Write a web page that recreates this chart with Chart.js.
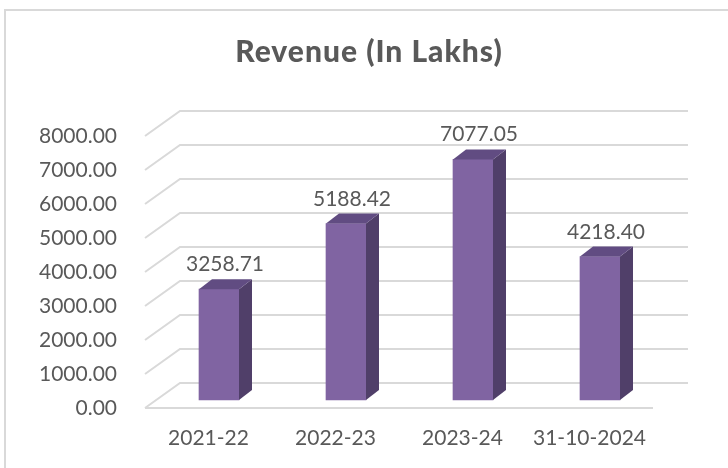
<!DOCTYPE html>
<html>
<head>
<meta charset="utf-8">
<title>Revenue (In Lakhs)</title>
<script src="https://cdn.jsdelivr.net/npm/chart.js@4.4.1/dist/chart.umd.min.js"></script>
<style>
  html, body { margin: 0; padding: 0; background: #fff; }
  #wrap { width: 728px; height: 468px; }
</style>
</head>
<body>
<div id="wrap"><canvas id="revenueChart" width="728" height="468"></canvas></div>
<script>
// data
const categories = ['2021-22', '2022-23', '2023-24', '31-10-2024'];
const revenue = [3258.71, 5188.42, 7077.05, 4218.40];
const yMin = 0;
const yMax = 8000;
const yStep = 1000;
const chartTitle = 'Revenue (In Lakhs)';

const TEXT = '#595959';
const GRID = '#d9d9d9';
const FRONT = '#8064a2';
const SIDE = '#503f69';
const TOP = '#614c82';

// fake 3d: wall depth, where the bars stand, and bar depth
const WALL_X = 35, WALL_Y = 25;
const BAR_X = 10.5, BAR_Y = 8;
const BOX_X = 13, BOX_Y = 10;

const excel3d = {
    id: 'excel3d',
    beforeDraw(chart) {
        const ctx = chart.ctx;
        ctx.save();
        // chart frame (only top and left show in the crop)
        ctx.strokeStyle = GRID;
        ctx.lineWidth = 2;
        ctx.beginPath();
        ctx.moveTo(5, chart.height);
        ctx.lineTo(5, 10);
        ctx.lineTo(chart.width, 10);
        ctx.stroke();
        // title, centred like the excel one
        ctx.fillStyle = TEXT;
        ctx.font = '900 30px Lato';
        ctx.letterSpacing = '1px';
        ctx.textAlign = 'center';
        ctx.textBaseline = 'alphabetic';
        ctx.fillText(chartTitle, 369, 62);
        ctx.restore();
    },
    beforeDatasetsDraw(chart) {
        const { ctx, chartArea: a, scales: { y } } = chart;
        ctx.save();
        ctx.strokeStyle = GRID;
        ctx.lineWidth = 2;
        y.ticks.forEach(t => {
            const py = y.getPixelForValue(t.value);
            ctx.beginPath();
            ctx.moveTo(a.left, py);
            ctx.lineTo(a.left + WALL_X, py - WALL_Y);
            ctx.lineTo(a.right + WALL_X, py - WALL_Y);
            ctx.stroke();
        });
        // front edge of the floor
        ctx.beginPath();
        ctx.moveTo(a.left, a.bottom);
        ctx.lineTo(a.right, a.bottom);
        ctx.stroke();
        ctx.restore();

        // bars stand a bit behind the front plane
        ctx.save();
        ctx.translate(BAR_X, -BAR_Y);
    },
    afterDatasetsDraw(chart) {
        const ctx = chart.ctx;
        const meta = chart.getDatasetMeta(0);
        meta.data.forEach(bar => {
            const { x, y, width, base } = bar.getProps(['x', 'y', 'width', 'base'], true);
            const l = x - width / 2, r = x + width / 2;
            ctx.fillStyle = SIDE;
            ctx.beginPath();
            ctx.moveTo(r, y);
            ctx.lineTo(r + BOX_X, y - BOX_Y);
            ctx.lineTo(r + BOX_X, base - BOX_Y);
            ctx.lineTo(r, base);
            ctx.closePath();
            ctx.fill();
            ctx.fillStyle = TOP;
            ctx.beginPath();
            ctx.moveTo(l, y);
            ctx.lineTo(l + BOX_X, y - BOX_Y);
            ctx.lineTo(r + BOX_X, y - BOX_Y);
            ctx.lineTo(r, y);
            ctx.closePath();
            ctx.fill();
        });
        ctx.restore();

        // value labels
        ctx.save();
        ctx.fillStyle = TEXT;
        ctx.font = '21px Lato';
        ctx.textAlign = 'center';
        ctx.textBaseline = 'alphabetic';
        meta.data.forEach((bar, i) => {
            ctx.fillText(revenue[i].toFixed(2), bar.x + BAR_X + 6, bar.y - BAR_Y - 18);
        });
        ctx.restore();
    }
};

function drawChart() {
    const ctx = document.getElementById('revenueChart').getContext('2d');
    new Chart(ctx, {
        type: 'bar',
        data: {
            labels: categories,
            datasets: [{
                label: 'Revenue',
                data: revenue,
                backgroundColor: FRONT,
                borderWidth: 0,
                barThickness: 40,
                clip: false
            }]
        },
        options: {
            responsive: false,
            animation: false,
            layout: { padding: { left: 35, right: 75, top: 136, bottom: 0 } },
            plugins: {
                legend: { display: false },
                tooltip: { enabled: false },
                title: { display: false }
            },
            scales: {
                x: {
                    grid: { display: false },
                    border: { display: false },
                    ticks: { color: TEXT, font: { family: 'Lato', size: 21 }, padding: 10, maxRotation: 0 },
                    afterFit(s) { s.height = 60; }
                },
                y: {
                    min: yMin,
                    max: yMax,
                    grid: { display: false, drawTicks: false },
                    border: { display: false },
                    ticks: {
                        stepSize: yStep,
                        color: TEXT,
                        font: { family: 'Lato', size: 21 },
                        padding: 28,
                        callback: v => Number(v).toFixed(2)
                    },
                    afterFit(s) { s.width = 110; }
                }
            }
        },
        plugins: [excel3d]
    });
}

document.addEventListener('DOMContentLoaded', drawChart);
</script>
</body>
</html>
